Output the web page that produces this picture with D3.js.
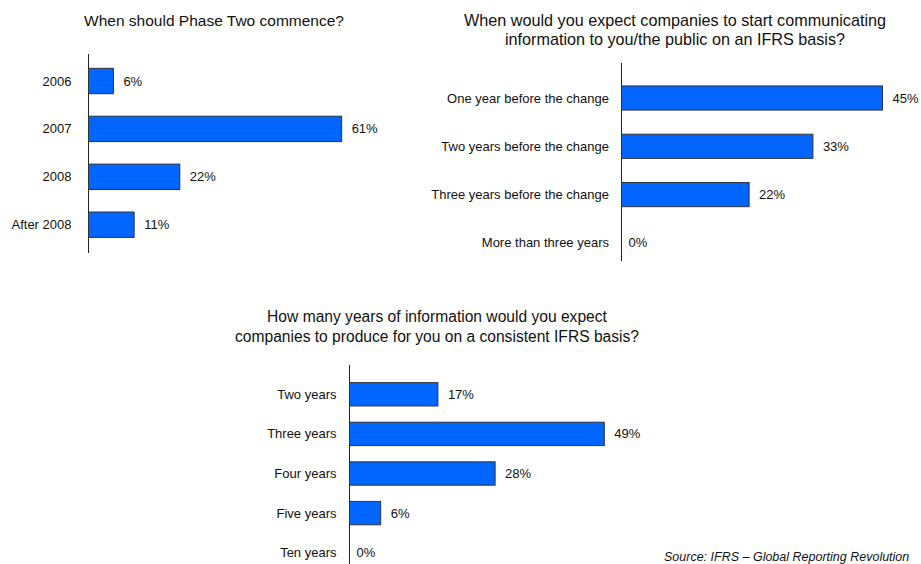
<!DOCTYPE html>
<html><head><meta charset="utf-8">
<script src="https://cdn.jsdelivr.net/npm/d3@7"></script>
<style>body{margin:0;background:#fff;overflow:hidden;} svg{display:block;font-family:"Liberation Sans",Arial,sans-serif;}</style>
</head><body><svg id="c" width="921" height="564"></svg>
<script>
const phaseCats = ["2006","2007","2008","After 2008"];
const phaseVals = [6,61,22,11];
const commCats = ["One year before the change","Two years before the change","Three years before the change","More than three years"];
const commVals = [45,33,22,0];
const yearsCats = ["Two years","Three years","Four years","Five years","Ten years"];
const yearsVals = [17,49,28,6,0];

const svg = d3.select("#c");
const barFill = "#0066ff", barStroke = "#333";

function panel(cfg){
  const g = svg.append("g");
  const x = d3.scaleLinear().domain([0, 100]).range([cfg.x0, cfg.x0 + cfg.pxPerPct*100]);
  const n = cfg.cats.length;
  const r0 = cfg.c0 - cfg.step/2;
  const y = d3.scaleBand().domain(cfg.cats).range([r0, r0 + n*cfg.step])
    .paddingInner(cfg.pad).paddingOuter(cfg.pad/2);
  g.append("line").attr("x1",cfg.x0).attr("x2",cfg.x0).attr("y1",cfg.axTop).attr("y2",cfg.axBot)
    .attr("stroke","#222").attr("stroke-width",1);
  g.selectAll("rect.bar").data(cfg.vals).join("rect").attr("class","bar")
    .attr("x",cfg.x0).attr("y",(d,i)=>y(cfg.cats[i]))
    .attr("width",d=>Math.max(0,x(d)-cfg.x0)).attr("height",y.bandwidth())
    .attr("fill",barFill).attr("stroke",barStroke).attr("stroke-width",1)
    .style("display",d=>d>0?null:"none");
  g.selectAll("text.cat").data(cfg.cats).join("text").attr("class","cat")
    .attr("x",cfg.x0 - cfg.labelGap).attr("y",d=>y(d)+y.bandwidth()/2).attr("dy","0.35em")
    .attr("text-anchor","end").attr("font-size",13).attr("fill","#111").text(d=>d);
  g.selectAll("text.val").data(cfg.vals).join("text").attr("class","val")
    .attr("x",d=>x(d)+ (d>0?10:7)).attr("y",(d,i)=>y(cfg.cats[i])+y.bandwidth()/2).attr("dy","0.35em")
    .attr("font-size",13).attr("fill","#111").text(d=>d+"%");
  cfg.title.forEach((t,i)=>{
    g.append("text").attr("x",cfg.tx).attr("y",cfg.ty+i*cfg.tls).attr("text-anchor","middle")
      .attr("font-size",cfg.tfs).attr("fill","#111").text(t);
  });
}

panel({cats:phaseCats, vals:phaseVals, x0:88.5, pxPerPct:4.15, c0:81, step:47.9, pad:0.47,
  axTop:54, axBot:253, labelGap:17, title:["When should Phase Two commence?"], tx:214, ty:25.5, tfs:15.5, tls:18});
panel({cats:commCats, vals:commVals, x0:621.5, pxPerPct:5.8, c0:98, step:48.3, pad:0.5,
  axTop:63, axBot:261, labelGap:12.5, title:["When would you expect companies to start communicating","information to you/the public on an IFRS basis?"], tx:675, ty:26, tfs:16.2, tls:18.5});
panel({cats:yearsCats, vals:yearsVals, x0:349.5, pxPerPct:5.2, c0:394.3, step:39.6, pad:0.41,
  axTop:365, axBot:564, labelGap:13, title:["How many years of information would you expect","companies to produce for you on a consistent IFRS basis?"], tx:437, ty:322, tfs:15.6, tls:19.5});

svg.append("text").attr("x",664).attr("y",561).attr("font-size",12.5).attr("font-style","italic")
  .attr("fill","#111").text("Source: IFRS – Global Reporting Revolution");
</script></body></html>
